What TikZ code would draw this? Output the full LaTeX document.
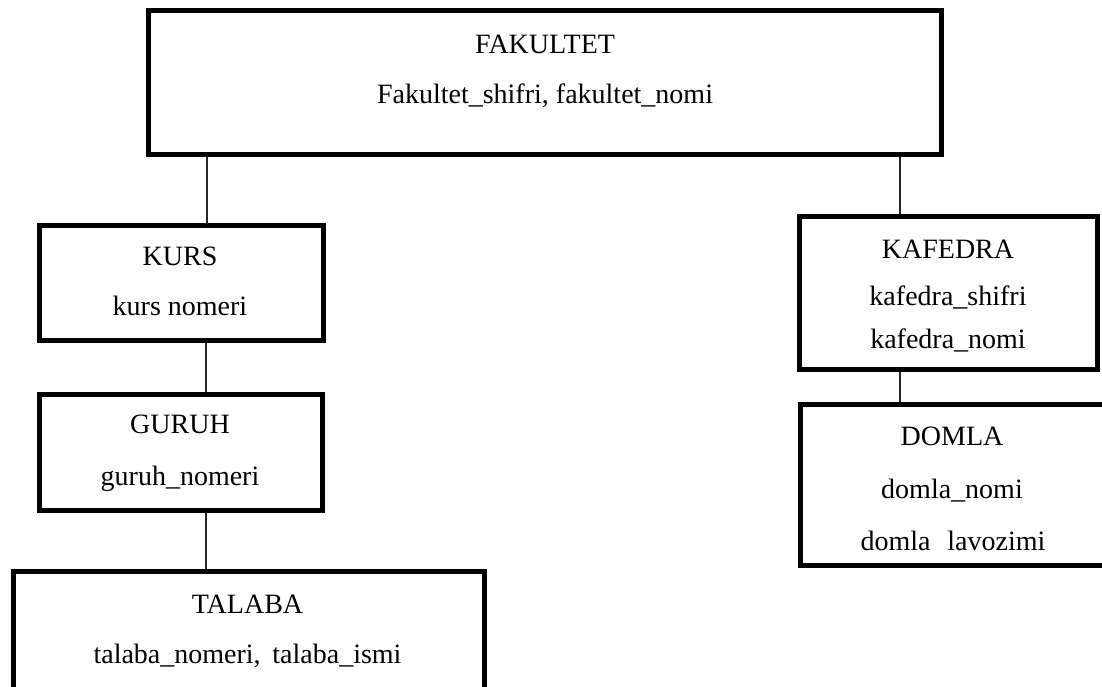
\documentclass[tikz,border=0pt]{standalone}
\usepackage{fontspec}
\setmainfont{Liberation Serif}
\begin{document}
\begin{tikzpicture}[x=1pt,y=-1pt,
  entbox/.style={draw=black,line width=5pt,rectangle,inner sep=0pt,fill=white},
  lbl/.style={anchor=base,inner sep=0pt,font=\fontsize{28}{34}\selectfont},
  conn/.style={draw=black!85,line width=1.1pt}]
\useasboundingbox (0,0) rectangle (1102,686);
\clip (0,0) rectangle (1102,686);
\fill[white] (0,0) rectangle (1102,686);
% boxes
\node[entbox,minimum width=793pt,minimum height=144pt] (fak) at (545,82.5) {};
\node[entbox,minimum width=284pt,minimum height=115pt] (kurs) at (181.5,283) {};
\node[entbox,minimum width=283pt,minimum height=116pt] (guruh) at (181,452.5) {};
\node[entbox,minimum width=471pt,minimum height=160pt] (talaba) at (249,651.5) {};
\node[entbox,minimum width=298pt,minimum height=153pt] (kafedra) at (948.5,293) {};
\node[entbox,minimum width=303.5pt,minimum height=161pt] (domla) at (952.25,485) {};
% connectors
\coordinate (cl) at (207,0);
\coordinate (cm) at (206,0);
\coordinate (cr) at (900,0);
\draw[conn] (cl |- fak.south) -- (cl |- kurs.north);
\draw[conn] (cm |- kurs.south) -- (cm |- guruh.north);
\draw[conn] (cm |- guruh.south) -- (cm |- talaba.north);
\draw[conn] (cr |- fak.south) -- (cr |- kafedra.north);
\draw[conn] (cr |- kafedra.south) -- (cr |- domla.north);
% texts
\node[lbl] (t1) at (545,53) {FAKULTET};
\node[lbl] (t2) at (545,103) {Fakultet\_shifri, fakultet\_nomi};
\node[lbl] (t3) at (180,265) {KURS};
\node[lbl] (t4) at (180,315) {kurs nomeri};
\node[lbl] (t5) at (180,433) {GURUH};
\node[lbl] (t6) at (180,485) {guruh\_nomeri};
\node[lbl] (t7) at (247.5,613) {TALABA};
\node[lbl] (t8) at (247.5,663) {talaba\_nomeri,\, talaba\_ismi};
\node[lbl] (t9) at (948,258) {KAFEDRA};
\node[lbl] (t10) at (948,305) {kafedra\_shifri};
\node[lbl] (t11) at (948,348) {kafedra\_nomi};
\node[lbl] (t12) at (952,445) {DOMLA};
\node[lbl] (t13) at (952,498) {domla\_nomi};
\node[lbl] (t14) at (953,550) {domla\hspace{0.6em}lavozimi};
\end{tikzpicture}
\end{document}
